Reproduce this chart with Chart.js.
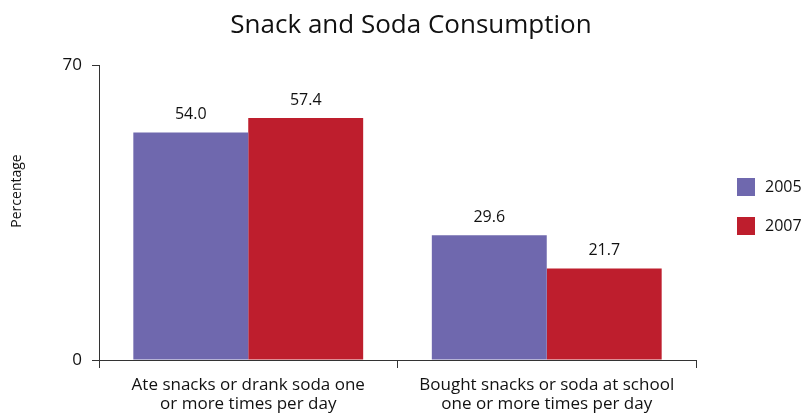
<!DOCTYPE html>
<html>
<head>
<meta charset="utf-8">
<script src="https://cdn.jsdelivr.net/npm/chart.js@4.4.1/dist/chart.umd.min.js"></script>
<style>
    html, body { margin: 0; padding: 0; background: #fff; }
    #wrap { width: 806px; height: 415px; }
</style>
</head>
<body>
<div id="wrap"><canvas id="snackChart"></canvas></div>
<script>
const categories = [
    ["Ate snacks or drank soda one", "or more times per day"],
    ["Bought snacks or soda at school", "one or more times per day"]
]
const years = ["2005", "2007"]
const values2005 = [54.0, 29.6]
const values2007 = [57.4, 21.7]
const yTicks = [0, 70]
const chartTitle = "Snack and Soda Consumption"

const FONT = "'Open Sans', 'DejaVu Sans', sans-serif"
const colors = ["#6f68ae", "#be1e2d"]

// value labels above each bar
const barLabels = {
    id: 'barLabels',
    afterDatasetsDraw(chart){
        const ctx = chart.ctx
        ctx.save()
        ctx.font = `16px ${FONT}`
        ctx.fillStyle = "#111"
        ctx.textAlign = "center"
        ctx.textBaseline = "middle"
        chart.data.datasets.forEach((ds, i) => {
            chart.getDatasetMeta(i).data.forEach((bar, j) => {
                ctx.fillText(ds.data[j].toFixed(1), bar.x, bar.y - 18)
            })
        })
        ctx.restore()
    }
}

// title, legend on the right and rotated y title
const sideTexts = {
    id: 'sideTexts',
    afterDraw(chart){
        const ctx = chart.ctx
        const area = chart.chartArea
        ctx.save()
        ctx.fillStyle = "#111"
        ctx.font = `26px ${FONT}`
        ctx.textAlign = "center"
        ctx.textBaseline = "middle"
        ctx.fillText(chartTitle, 411, 26)

        ctx.font = `16px ${FONT}`
        chart.data.datasets.forEach((ds, i) => {
            const x = area.right + 41
            const y = 178 + i * 39
            ctx.fillStyle = ds.backgroundColor
            ctx.fillRect(x, y, 18, 18)
            ctx.fillStyle = "#111"
            ctx.textAlign = "left"
            ctx.fillText(ds.label, x + 28, y + 9)
        })

        ctx.translate(17, 191)
        ctx.rotate(-Math.PI / 2)
        ctx.font = `14px ${FONT}`
        ctx.textAlign = "center"
        ctx.fillText("Percentage", 0, 0)
        ctx.restore()
    }
}

new Chart(document.getElementById("snackChart"), {
    type: 'bar',
    data: {
        labels: categories,
        datasets: [
            {label: years[0], data: values2005, backgroundColor: colors[0]},
            {label: years[1], data: values2007, backgroundColor: colors[1]}
        ]
    },
    options: {
        responsive: true,
        maintainAspectRatio: false,
        animation: false,
        events: [],
        layout: {padding: {left: 0, right: 110, top: 65, bottom: 0}},
        datasets: {
            bar: {categoryPercentage: 0.77, barPercentage: 1.0}
        },
        scales: {
            x: {
                afterFit(scale){ scale.height = 55 },
                grid: {drawOnChartArea: false, tickLength: 8, color: "#333", offset: true},
                border: {color: "#333", width: 1},
                ticks: {color: "#111", font: {family: FONT, size: 17, lineHeight: 1.12}, padding: 8, maxRotation: 0}
            },
            y: {
                min: 0,
                max: 70,
                afterFit(scale){ scale.width = 99 },
                afterBuildTicks(scale){ scale.ticks = yTicks.map(v => ({value: v})) },
                grid: {drawOnChartArea: false, tickLength: 7, color: "#333"},
                border: {color: "#333", width: 1},
                ticks: {color: "#111", font: {family: FONT, size: 17}, padding: 10}
            }
        },
        plugins: {
            legend: {display: false},
            tooltip: {enabled: false},
            title: {display: false}
        }
    },
    plugins: [barLabels, sideTexts]
})
</script>
</body>
</html>
